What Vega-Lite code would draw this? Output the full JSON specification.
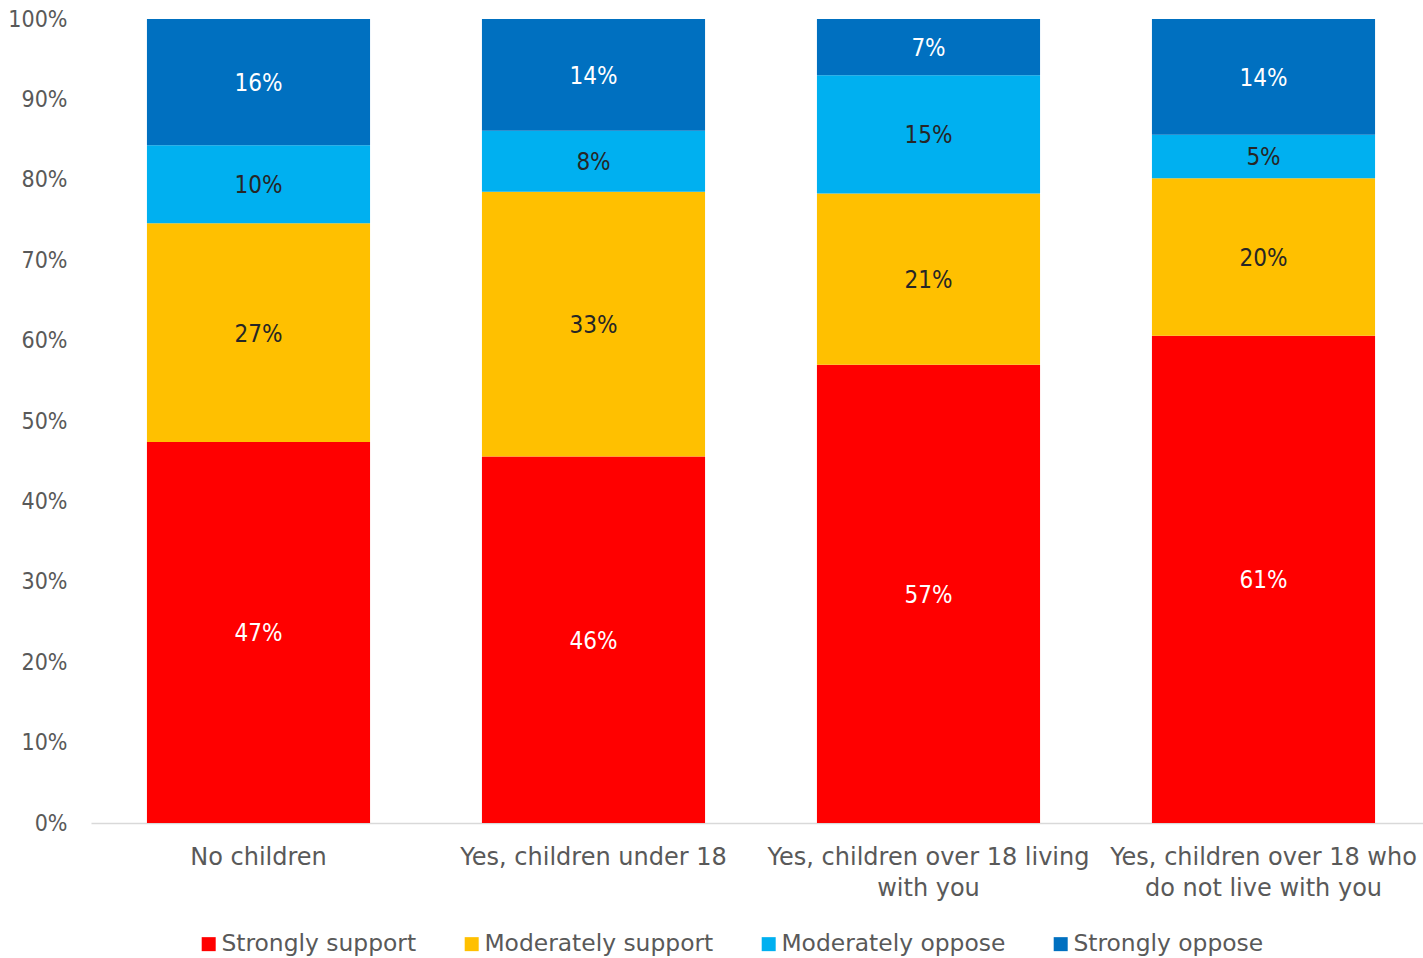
{
  "$schema": "https://vega.github.io/schema/vega-lite/v6.json",
  "autosize": {"type": "none"},
  "padding": {"left": 91, "top": 19, "right": 0, "bottom": 135},
  "width": 1332,
  "height": 804,
  "background": "white",
  "config": {
    "view": {"stroke": null},
    "font": "DejaVu Sans",
    "axis": {"labelFont": "DejaVu Sans", "labelColor": "#595959", "labelFontSize": 24, "grid": false, "ticks": false},
    "legend": {"labelFont": "DejaVu Sans", "labelColor": "#595959", "labelFontSize": 23.4}
  },
  "data": {
    "values": [
      {"group": "No children", "response": "Strongly support", "value": 47.4},
      {"group": "No children", "response": "Moderately support", "value": 27.2},
      {"group": "No children", "response": "Moderately oppose", "value": 9.7},
      {"group": "No children", "response": "Strongly oppose", "value": 15.7},
      {"group": "Yes, children under 18", "response": "Strongly support", "value": 45.6},
      {"group": "Yes, children under 18", "response": "Moderately support", "value": 32.9},
      {"group": "Yes, children under 18", "response": "Moderately oppose", "value": 7.6},
      {"group": "Yes, children under 18", "response": "Strongly oppose", "value": 13.9},
      {"group": "Yes, children over 18 living with you", "response": "Strongly support", "value": 57.0},
      {"group": "Yes, children over 18 living with you", "response": "Moderately support", "value": 21.3},
      {"group": "Yes, children over 18 living with you", "response": "Moderately oppose", "value": 14.7},
      {"group": "Yes, children over 18 living with you", "response": "Strongly oppose", "value": 7.0},
      {"group": "Yes, children over 18 who do not live with you", "response": "Strongly support", "value": 60.6},
      {"group": "Yes, children over 18 who do not live with you", "response": "Moderately support", "value": 19.6},
      {"group": "Yes, children over 18 who do not live with you", "response": "Moderately oppose", "value": 5.4},
      {"group": "Yes, children over 18 who do not live with you", "response": "Strongly oppose", "value": 14.4}
    ]
  },
  "transform": [
    {"calculate": "indexof(['Strongly support','Moderately support','Moderately oppose','Strongly oppose'], datum.response)", "as": "ord"},
    {"stack": "value", "groupby": ["group"], "sort": [{"field": "ord", "order": "ascending"}], "as": ["v0", "v1"]},
    {"calculate": "(datum.v0 + datum.v1) / 2", "as": "mid"},
    {"calculate": "format(datum.value, '.0f') + '%'", "as": "label"}
  ],
  "encoding": {
    "x": {
      "field": "group", "type": "nominal", "sort": null, "title": null,
      "scale": {"paddingInner": 0.334, "paddingOuter": 0.167, "range": [0, 1340]},
      "axis": {
        "labelAngle": 0, "labelLimit": 0, "labelPadding": 22, "labelLineHeight": 31,
        "domainColor": "#d9d9d9", "domainWidth": 1.5,
        "labelExpr": "datum.value == 'Yes, children over 18 living with you' ? ['Yes, children over 18 living', 'with you'] : datum.value == 'Yes, children over 18 who do not live with you' ? ['Yes, children over 18 who', 'do not live with you'] : datum.value"
      }
    }
  },
  "layer": [
    {
      "mark": {"type": "bar"},
      "encoding": {
        "y": {
          "field": "v0", "type": "quantitative", "title": null,
          "scale": {"domain": [0, 100], "nice": false},
          "axis": {"values": [0, 10, 20, 30, 40, 50, 60, 70, 80, 90, 100], "labelExpr": "datum.value + '%'", "domain": false, "labelPadding": 24, "labelFont": "DejaVu Sans Condensed", "labelFontSize": 23}
        },
        "y2": {"field": "v1"},
        "color": {
          "field": "response", "type": "nominal", "title": null,
          "scale": {
            "domain": ["Strongly support", "Moderately support", "Moderately oppose", "Strongly oppose"],
            "range": ["#FF0000", "#FFC000", "#00B0F0", "#0070C0"]
          },
          "legend": {
            "orient": "none", "direction": "horizontal", "legendX": 106, "legendY": 913,
            "symbolType": "square", "symbolSize": 196, "symbolStrokeWidth": 0, "symbolOpacity": 1,
            "labelOffset": 1, "columnPadding": 43, "padding": 0, "labelLimit": 0
          }
        }
      }
    },
    {
      "mark": {"type": "text", "fontSize": 24, "font": "DejaVu Sans Condensed", "dy": 2},
      "encoding": {
        "y": {"field": "mid", "type": "quantitative"},
        "text": {"field": "label", "type": "nominal"},
        "color": {
          "condition": {"test": "datum.response == 'Strongly support' || datum.response == 'Strongly oppose'", "value": "#FFFFFF"},
          "value": "#262626"
        }
      }
    }
  ]
}
